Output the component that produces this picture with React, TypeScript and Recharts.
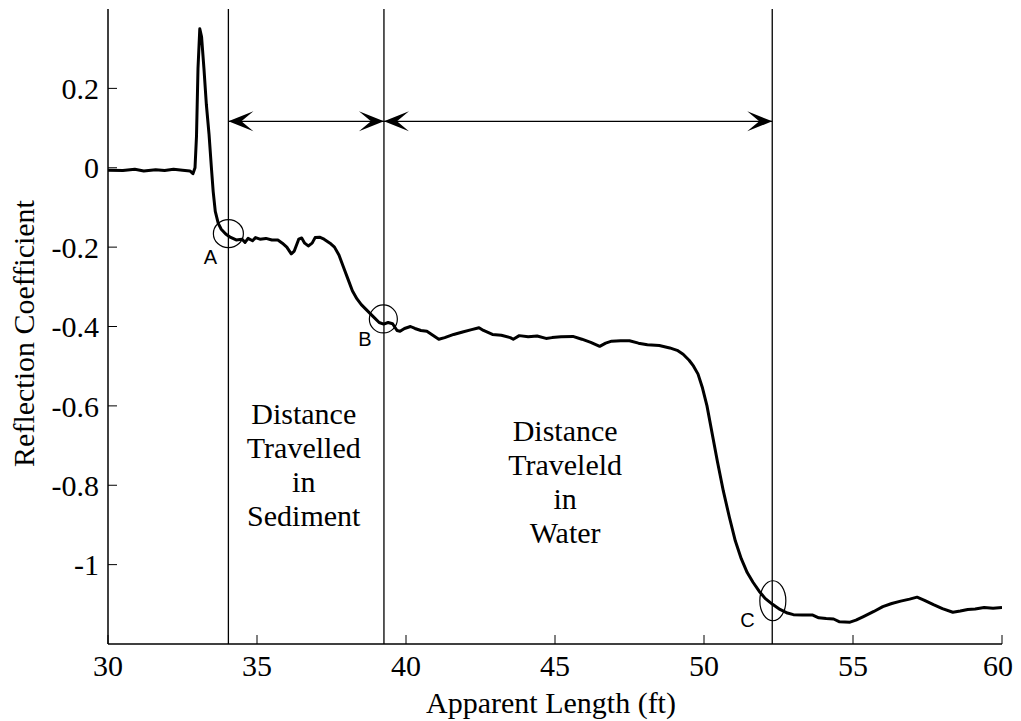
import React from 'react';
import { LineChart, Line, XAxis, YAxis, ReferenceLine, ReferenceDot } from 'recharts';

// Apparent length (ft) samples along the trace
const lengthFt = [
  30.0, 30.5, 30.9, 31.2, 31.6, 31.9, 32.2, 32.5, 32.75, 32.85, 32.92, 32.97, 33.02, 33.08, 33.14,
  33.22, 33.3, 33.39, 33.47, 33.53, 33.6, 33.7, 33.8, 33.95, 34.1, 34.3, 34.5, 34.6, 34.7, 34.85,
  34.95, 35.1, 35.3, 35.5, 35.7, 35.85, 36.0, 36.15, 36.25, 36.4, 36.5, 36.6, 36.72, 36.85, 36.95,
  37.1, 37.25, 37.45, 37.6, 37.75, 37.9, 38.05, 38.2, 38.35, 38.5, 38.7, 38.9, 39.1, 39.25, 39.4,
  39.55, 39.7, 39.8, 39.95, 40.15, 40.3, 40.5, 40.7, 40.9, 41.1, 41.3, 41.6, 41.9, 42.2, 42.45,
  42.6, 42.9, 43.2, 43.5, 43.6, 43.8, 44.1, 44.4, 44.7, 44.9, 45.2, 45.6, 45.9, 46.2, 46.5,
  46.7, 46.9, 47.2, 47.5, 47.8, 48.1, 48.5, 48.85, 49.1, 49.3, 49.5, 49.65, 49.8, 49.95, 50.1,
  50.25, 50.45, 50.65, 50.85, 51.05, 51.25, 51.45, 51.65, 51.85, 52.05, 52.3, 52.55, 52.8, 53.0, 53.3,
  53.65, 53.85, 54.1, 54.35, 54.55, 54.9, 55.1, 55.35, 55.7, 56.0, 56.3, 56.6, 56.9, 57.15, 57.4,
  57.7, 58.0, 58.35, 58.6, 58.85, 59.1, 59.4, 59.7, 60.0,
];

// Reflection coefficient at each sample
const reflection = [
  -0.006, -0.007, -0.004, -0.008, -0.005, -0.007, -0.004, -0.006, -0.008, -0.015, 0.0, 0.08, 0.25, 0.35, 0.33,
  0.25, 0.16, 0.085, 0.0, -0.06, -0.11, -0.14, -0.155, -0.167, -0.175, -0.182, -0.18, -0.188, -0.178, -0.184,
  -0.176, -0.18, -0.178, -0.182, -0.182, -0.19, -0.2, -0.217, -0.21, -0.18, -0.177, -0.19, -0.197, -0.19, -0.176,
  -0.175, -0.18, -0.19, -0.2, -0.22, -0.25, -0.28, -0.31, -0.33, -0.345, -0.36, -0.375, -0.39, -0.394, -0.39,
  -0.393, -0.41, -0.412, -0.405, -0.4, -0.405, -0.41, -0.412, -0.422, -0.432, -0.428, -0.42, -0.414, -0.408, -0.403,
  -0.41, -0.42, -0.422, -0.428, -0.432, -0.423, -0.426, -0.424, -0.43, -0.428, -0.426, -0.425, -0.432, -0.44, -0.45,
  -0.442, -0.437, -0.436, -0.436, -0.442, -0.446, -0.448, -0.454, -0.46, -0.47, -0.485, -0.5, -0.52, -0.555, -0.6,
  -0.66, -0.74, -0.815, -0.88, -0.94, -0.985, -1.02, -1.045, -1.067, -1.085, -1.1, -1.113, -1.122, -1.126, -1.127,
  -1.127, -1.134, -1.136, -1.137, -1.144, -1.145, -1.14, -1.131, -1.118, -1.106, -1.098, -1.092, -1.087, -1.082, -1.09,
  -1.101, -1.111, -1.12, -1.117, -1.113, -1.112, -1.108, -1.11, -1.108,
];

const xTicks = [30, 35, 40, 45, 50, 55, 60];
const yTicks = [-1, -0.8, -0.6, -0.4, -0.2, 0, 0.2];

// Boundary positions A, B, C
const boundaryX = [34.04, 39.26, 52.29];
const arrowY = 0.117;

// Circle markers around A, B, C
const circleX = [34.04, 39.24, 52.31];
const circleY = [-0.166, -0.381, -1.091];
const circleRx = [15, 14, 13];
const circleRy = [14, 14, 20];

// Letter labels
const letterText = ['A', 'B', 'C'];
const letterX = [33.44, 38.62, 51.46];
const letterY = [-0.226, -0.432, -1.139];

// Text annotations
const sedimentLines = ['Distance', 'Travelled', 'in', 'Sediment'];
const waterLines = ['Distance', 'Traveleld', 'in', 'Water'];
const annotX = [36.57, 45.34];
const annotY = [-0.645, -0.688];

const data = lengthFt.map((x, i) => ({ x, y: reflection[i] }));

const SERIF = '"Liberation Serif", "Times New Roman", serif';
const SANS = '"Liberation Sans", Arial, sans-serif';

const ArrowShape = (props: any) => {
  const { x1, y1, x2, y2 } = props;
  const L = 25;
  const W = 10;
  const N = 13;
  return (
    <g>
      <line x1={x1} y1={y1} x2={x2} y2={y2} stroke="#000" strokeWidth={1.3} />
      <polygon points={`${x1},${y1} ${x1 + L},${y1 - W} ${x1 + N},${y1} ${x1 + L},${y1 + W}`} fill="#000" />
      <polygon points={`${x2},${y2} ${x2 - L},${y2 - W} ${x2 - N},${y2} ${x2 - L},${y2 + W}`} fill="#000" />
    </g>
  );
};

const makeEllipse = (rx: number, ry: number) => (props: any) => (
  <ellipse cx={props.cx} cy={props.cy} rx={rx} ry={ry} fill="none" stroke="#000" strokeWidth={1.2} />
);

const makeLetter = (t: string) => (props: any) => (
  <text x={props.cx} y={props.cy} textAnchor="middle" dominantBaseline="central" fontFamily={SANS} fontSize={20} fill="#000">
    {t}
  </text>
);

const makeBlock = (lines: string[]) => (props: any) => (
  <text x={props.cx} y={props.cy} textAnchor="middle" fontFamily={SERIF} fontSize={30} fill="#000">
    {lines.map((l, i) => (
      <tspan key={i} x={props.cx} dy={i === 0 ? 0 : 34}>
        {l}
      </tspan>
    ))}
  </text>
);

const YTitle = (props: any) => {
  const vb = props.viewBox || { y: 1, height: 634 };
  const cy = vb.y + vb.height / 2 + 7;
  return (
    <text x={26} y={cy} transform={`rotate(-90 26 ${cy})`} textAnchor="middle" fontFamily={SERIF} fontSize={30} fill="#000">
      Reflection Coefficient
    </text>
  );
};

const XTitle = (props: any) => {
  const vb = props.viewBox || { x: 100, width: 894, y: 636 };
  const cx = vb.x + vb.width / 2 - 4;
  return (
    <text x={cx} y={705} textAnchor="middle" fontFamily={SERIF} fontSize={30} fill="#000">
      Apparent Length (ft)
    </text>
  );
};

const tickStyle = { fill: '#000', fontSize: 30, fontFamily: SERIF };

export default function App() {
  return (
    <div>
      <style>{`html, body { overflow: hidden; }`}</style>
      <LineChart width={1005} height={713} data={data} margin={{ top: 1, right: 11, bottom: 0, left: 0 }}>
        <XAxis
          xAxisId={0}
          dataKey="x"
          type="number"
          domain={[30, 60]}
          ticks={xTicks}
          allowDataOverflow
          height={77}
          tickSize={-9}
          tickMargin={20}
          stroke="#000"
          axisLine={{ stroke: '#000', strokeWidth: 1.5 }}
          tickLine={{ stroke: '#000' }}
          tick={tickStyle}
          label={<XTitle />}
        />
        <XAxis
          xAxisId="top"
          orientation="top"
          dataKey="x"
          type="number"
          domain={[30, 60]}
          ticks={xTicks}
          allowDataOverflow
          height={0}
          tickSize={-9}
          tick={false}
          stroke="#000"
          axisLine={{ stroke: '#000', strokeWidth: 1.5 }}
          tickLine={{ stroke: '#000' }}
        />
        <YAxis
          yAxisId={0}
          type="number"
          domain={[-1.2, 0.4]}
          ticks={yTicks}
          allowDataOverflow
          width={100}
          tickSize={-9}
          tickMargin={18}
          stroke="#000"
          axisLine={{ stroke: '#000', strokeWidth: 1.5 }}
          tickLine={{ stroke: '#000' }}
          tick={tickStyle}
          label={<YTitle />}
        />
        <YAxis
          yAxisId="right"
          orientation="right"
          type="number"
          domain={[-1.2, 0.4]}
          ticks={yTicks}
          allowDataOverflow
          width={0}
          tickSize={-9}
          tick={false}
          stroke="#000"
          axisLine={{ stroke: '#000', strokeWidth: 1.5 }}
          tickLine={{ stroke: '#000' }}
        />
        {boundaryX.map((bx, i) => (
          <ReferenceLine key={`v${i}`} x={bx} stroke="#000" strokeWidth={1.3} ifOverflow="visible" />
        ))}
        <ReferenceLine
          segment={[{ x: boundaryX[0], y: arrowY }, { x: boundaryX[1], y: arrowY }]}
          shape={ArrowShape}
          ifOverflow="visible"
        />
        <ReferenceLine
          segment={[{ x: boundaryX[1], y: arrowY }, { x: boundaryX[2], y: arrowY }]}
          shape={ArrowShape}
          ifOverflow="visible"
        />
        <Line
          type="linear"
          dataKey="y"
          stroke="#000"
          strokeWidth={3}
          dot={false}
          activeDot={false}
          isAnimationActive={false}
          strokeLinejoin="round"
        />
        {circleX.map((cx, i) => (
          <ReferenceDot key={`c${i}`} x={cx} y={circleY[i]} r={1} shape={makeEllipse(circleRx[i], circleRy[i])} ifOverflow="visible" />
        ))}
        {letterText.map((t, i) => (
          <ReferenceDot key={`l${i}`} x={letterX[i]} y={letterY[i]} r={1} shape={makeLetter(t)} ifOverflow="visible" />
        ))}
        <ReferenceDot x={annotX[0]} y={annotY[0]} r={1} shape={makeBlock(sedimentLines)} ifOverflow="visible" />
        <ReferenceDot x={annotX[1]} y={annotY[1]} r={1} shape={makeBlock(waterLines)} ifOverflow="visible" />
      </LineChart>
    </div>
  );
}
